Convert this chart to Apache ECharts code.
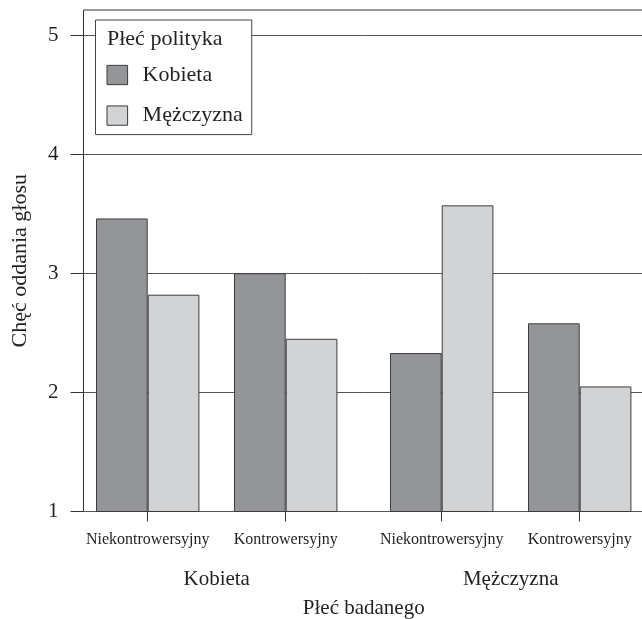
<!DOCTYPE html>
<html>
<head>
<meta charset="utf-8">
<script src="https://cdn.jsdelivr.net/npm/echarts@6/dist/echarts.min.js"></script>
<style>html,body{margin:0;padding:0;background:#fff}#c{width:642px;height:619px}</style>
</head>
<body>
<div id="c"></div>
<script>
// ---- data ----
var respondentGroups = ['Kobieta', 'Mężczyzna'];
var issueTypes = ['Niekontrowersyjny', 'Kontrowersyjny'];
var politicianGenders = ['Kobieta', 'Mężczyzna'];
// values per respondent group (Kobieta, Mężczyzna), each over issueTypes
var valuesPolitykKobieta = [[3.46, 3.00], [2.33, 2.58]];
var valuesPolitykMezczyzna = [[2.82, 2.45], [3.57, 2.05]];
var yMin = 1, yMaxTick = 5, yTop = 5.21, yStep = 1;
var legendTitle = 'Płeć polityka';
var xTitle = 'Płeć badanego';
var yTitle = 'Chęć oddania głosu';

var FONT = 'Liberation Serif';
var TXT = '#231f20';
var DARK = '#939598', LIGHT = '#d1d3d4', EDGE = '#3c3c3c';
var BASE = 107.5;

var chart = echarts.init(document.getElementById('c'), null, {renderer: 'canvas'});

var grids = [
  {left: 83.5, top: 10, right: -2, bottom: BASE, show: true, borderColor: '#333', borderWidth: 1, backgroundColor: 'transparent', outerBoundsMode: 'none', containLabel: false},
  {left: 83.5, top: 35, right: -2, bottom: BASE, outerBoundsMode: 'none', containLabel: false},
  {left: 78.7, top: 10, width: 276, bottom: BASE, outerBoundsMode: 'none', containLabel: false},
  {left: 372.7, top: 10, width: 276, bottom: BASE, outerBoundsMode: 'none', containLabel: false}
];

var xAxes = [
  {gridIndex: 0, type: 'value', show: true, axisLine: {show: false}, axisTick: {show: false}, axisLabel: {show: false}, splitLine: {show: false},
   name: xTitle, nameLocation: 'middle', nameGap: 86, nameTextStyle: {fontFamily: FONT, fontSize: 21, color: TXT}},
  {gridIndex: 1, type: 'category', show: false, data: issueTypes}
];
var yAxes = [
  {gridIndex: 0, type: 'value', min: yMin, max: yTop, show: true, axisLine: {show: false}, axisTick: {show: false}, axisLabel: {show: false}, splitLine: {show: false},
   name: yTitle, nameLocation: 'middle', nameGap: 52, nameTextStyle: {fontFamily: FONT, fontSize: 22, color: TXT}},
  {gridIndex: 1, type: 'value', min: yMin, max: yMaxTick, interval: yStep,
   axisLine: {show: false},
   axisTick: {show: true, length: 13, lineStyle: {color: '#333', width: 1}},
   axisLabel: {margin: 25, fontFamily: FONT, fontSize: 21, color: TXT},
   splitLine: {show: true, lineStyle: {color: '#555', width: 1}}}
];
var series = [];
respondentGroups.forEach(function (g, i) {
  var gi = i + 2;
  xAxes.push({
    gridIndex: gi, type: 'category', data: issueTypes,
    axisLine: {show: false},
    axisTick: {show: true, alignWithLabel: true, length: 10, lineStyle: {color: '#333'}},
    axisLabel: {interval: 0, margin: 20, fontFamily: FONT, fontSize: 16, color: TXT},
    name: g, nameLocation: 'middle', nameGap: 57,
    nameTextStyle: {fontFamily: FONT, fontSize: 21, color: TXT}
  });
  yAxes.push({gridIndex: gi, type: 'value', min: yMin, max: yTop, show: false});
  series.push({
    type: 'bar', name: politicianGenders[0], xAxisIndex: gi, yAxisIndex: gi,
    data: valuesPolitykKobieta[i], barWidth: 51.7, barGap: '0%', clip: true,
    itemStyle: {color: DARK, borderColor: EDGE, borderWidth: 1}
  });
  series.push({
    type: 'bar', name: politicianGenders[1], xAxisIndex: gi, yAxisIndex: gi,
    data: valuesPolitykMezczyzna[i], barWidth: 51.7, barGap: '0%', clip: true,
    itemStyle: {color: LIGHT, borderColor: EDGE, borderWidth: 1}
  });
});

chart.setOption({
  animation: false,
  backgroundColor: '#fff',
  title: {text: legendTitle, left: 107, top: 28, padding: 0,
    textStyle: {fontFamily: FONT, fontSize: 22, fontWeight: 'normal', color: TXT}},
  legend: {
    data: politicianGenders, orient: 'vertical', left: 95.5, top: 20,
    padding: [44, 9, 8, 11], itemGap: 18.6, itemWidth: 20.6, itemHeight: 19.3,
    backgroundColor: '#fff', borderColor: '#444', borderWidth: 1,
    icon: 'rect',
    itemStyle: {borderColor: EDGE, borderWidth: 1},
    textStyle: {fontFamily: FONT, fontSize: 22, color: TXT, padding: [0, 0, 0, 10]}
  },
  grid: grids,
  xAxis: xAxes,
  yAxis: yAxes,
  series: series
});
</script>
</body>
</html>
